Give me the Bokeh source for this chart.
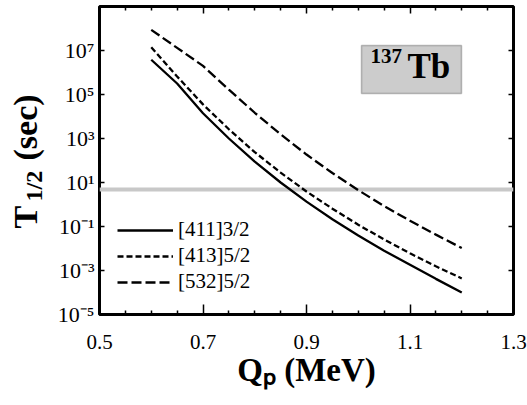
import numpy as np
from math import pi
from bokeh.plotting import figure
from bokeh.layouts import row
from bokeh.models import (Label, BoxAnnotation, Span, Legend, LegendItem, FixedTicker,
                          LinearAxis, LogAxis, Range1d, CustomJSTickFormatter)
from bokeh.embed import file_html
from bokeh.resources import INLINE

# ---- data ----
q_mev = [0.60, 0.65, 0.70, 0.75, 0.80, 0.85, 0.90, 0.95, 1.00, 1.05, 1.10, 1.15, 1.20]
log_t_411 = [6.58, 5.50, 4.15, 3.00, 1.95, 1.00, 0.13, -0.67, -1.41, -2.10, -2.74, -3.38, -4.00]
log_t_413 = [7.15, 5.82, 4.55, 3.42, 2.38, 1.45, 0.59, -0.19, -0.92, -1.59, -2.22, -2.81, -3.36]
log_t_532 = [7.94, 7.12, 6.30, 5.22, 4.17, 3.19, 2.27, 1.43, 0.65, -0.07, -0.74, -1.37, -1.98]
series_names = ["[411]3/2", "[413]5/2", "[532]5/2"]
threshold_sec = 4.8
x_ticks = [0.5, 0.7, 0.9, 1.1, 1.3]
x_minor = [0.55, 0.6, 0.65, 0.75, 0.8, 0.85, 0.95, 1.0, 1.05, 1.15, 1.2, 1.25]
y_exps = [-5, -3, -1, 1, 3, 5, 7]

SERIF = "Liberation Serif"


def lab(f, x, y, text, size, bold=True, angle=0.0):
    f.add_layout(Label(x=x, y=y, x_units="screen", y_units="screen", text=text, angle=angle,
                       text_align="left", text_baseline="middle", text_font=SERIF,
                       text_font_size=size, text_font_style="bold" if bold else "normal",
                       text_color="black"))


# ---- main plot ----
p = figure(width=477, height=405, output_backend="svg", toolbar_location=None,
           y_axis_type="log", x_range=Range1d(0.5, 1.3), y_range=Range1d(1e-5, 1e9),
           min_border_left=49, min_border_right=14, min_border_top=6, min_border_bottom=91)
p.xgrid.visible = False
p.ygrid.visible = False
p.background_fill_color = "white"
p.border_fill_color = "white"
p.outline_line_color = "black"
p.outline_line_width = 3

empty = CustomJSTickFormatter(code="return '';")
pow_fmt = CustomJSTickFormatter(code="""
const sup = {'0':'\\u2070','1':'\\u00b9','2':'\\u00b2','3':'\\u00b3','4':'\\u2074','5':'\\u2075',
             '6':'\\u2076','7':'\\u2077','8':'\\u2078','9':'\\u2079','-':'\\u207b'};
const e = Math.round(Math.log10(tick));
return '10' + String(e).split('').map(c => sup[c]).join('');
""")

# bottom axis (with the x title)
xa = p.xaxis[0]
xa.ticker = FixedTicker(ticks=x_ticks, minor_ticks=x_minor)
xa.axis_line_color = None
xa.major_tick_in = 10
xa.major_tick_out = 0
xa.minor_tick_in = 4
xa.minor_tick_out = 0
xa.major_tick_line_width = 1.5
xa.minor_tick_line_width = 1.5
xa.major_label_text_font = SERIF
xa.major_label_text_font_size = "21px"
xa.major_label_text_color = "black"
xa.major_label_standoff = 20
xa.axis_label = "Q\u209a (MeV)"
xa.axis_label_text_font = SERIF
xa.axis_label_text_font_size = "33px"
xa.axis_label_text_font_style = "bold"
xa.axis_label_text_color = "black"
xa.axis_label_standoff = 0

# left axis
ya = p.yaxis[0]
ya.ticker = FixedTicker(ticks=[10.0 ** e for e in y_exps], minor_ticks=[])
ya.axis_line_color = None
ya.major_tick_in = 5
ya.major_tick_out = 0
ya.minor_tick_in = 0
ya.minor_tick_out = 0
ya.major_tick_line_width = 1.5
ya.formatter = pow_fmt
ya.major_label_text_font = SERIF
ya.major_label_text_font_size = "22px"
ya.major_label_text_color = "black"
ya.major_label_standoff = 5

# top axis
ta = LinearAxis(ticker=FixedTicker(ticks=x_ticks, minor_ticks=x_minor), formatter=empty,
                axis_line_color=None, major_tick_in=7, major_tick_out=0, minor_tick_in=4,
                minor_tick_out=0, major_tick_line_width=1.5, minor_tick_line_width=1.5,
                major_label_text_font_size="1px", major_label_standoff=0)
p.add_layout(ta, "above")

# right axis
ra = LogAxis(ticker=FixedTicker(ticks=[10.0 ** e for e in y_exps], minor_ticks=[]), formatter=empty,
             axis_line_color=None, major_tick_in=5, major_tick_out=0, minor_tick_in=0,
             minor_tick_out=0, major_tick_line_width=1.5,
             major_label_text_font_size="1px", major_label_standoff=0)
p.add_layout(ra, "right")

# threshold line
p.add_layout(Span(location=threshold_sec, dimension="width", line_color="#c8c8c8",
                  line_width=4, level="underlay"))

q = np.array(q_mev)
r1 = p.line(q, 10.0 ** np.array(log_t_411), line_color="black", line_width=2.3)
r2 = p.line(q, 10.0 ** np.array(log_t_413), line_color="black", line_width=2.3, line_dash="6 3")
r3 = p.line(q, 10.0 ** np.array(log_t_532), line_color="black", line_width=2.3, line_dash="10 4")

legend = Legend(items=[LegendItem(label=series_names[0], renderers=[r1]),
                       LegendItem(label=series_names[1], renderers=[r2]),
                       LegendItem(label=series_names[2], renderers=[r3])],
                location=(18, 20), label_text_font=SERIF, label_text_font_size="21px",
                label_text_color="black",
                glyph_width=56, glyph_height=20, label_height=20, label_standoff=5, spacing=1,
                padding=0, margin=0, border_line_color=None, background_fill_alpha=0)
p.add_layout(legend, "center")

# nucleus box  137Tb
p.add_layout(BoxAnnotation(left=262, right=362, bottom=221, top=269, left_units="screen",
                           right_units="screen", bottom_units="screen", top_units="screen",
                           fill_color="#cccccc", fill_alpha=1, line_color="#333333",
                           line_width=1.5))
lab(p, 271, 259, "137", "21px")
lab(p, 308, 248, "Tb", "35px")

# ---- left strip: y axis title  T_{1/2} (sec) ----
# (its frame is aligned with the main frame by the row: spans canvas y 6..314)
left = figure(width=50, height=405, output_backend="svg", toolbar_location=None,
              x_axis_location=None, y_axis_location=None, min_border=0,
              min_border_top=6, min_border_bottom=91,
              x_range=Range1d(0, 50), y_range=Range1d(0, 308))
left.xgrid.visible = False
left.ygrid.visible = False
left.outline_line_color = None
left.background_fill_color = "white"
left.border_fill_color = "white"
lab(left, 25, 86, "T", "34px", angle=pi / 2)
lab(left, 33, 113, "1/2", "24px", angle=pi / 2)
lab(left, 25, 154, "(sec)", "34px", angle=pi / 2)

layout = row(left, p, spacing=0)

open("out.html", "w", encoding="utf-8").write(file_html(layout, INLINE))
